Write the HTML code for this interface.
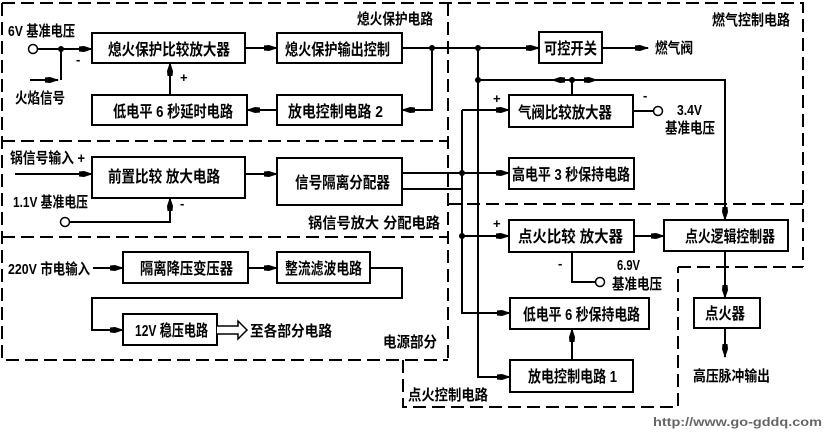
<!DOCTYPE html>
<html><head><meta charset="utf-8"><style>
html,body{margin:0;padding:0;background:#fff;}
svg{display:block;}
text{font-family:"Liberation Sans","Noto Sans CJK SC",sans-serif;font-weight:bold;fill:#000;}
</style></head><body>
<svg width="832" height="437" viewBox="0 0 832 437" xmlns="http://www.w3.org/2000/svg">
<defs>
<marker id="a" viewBox="0 0 14 8" refX="13" refY="4" markerWidth="14" markerHeight="8" markerUnits="userSpaceOnUse" orient="auto">
<path d="M0,1.5 L5,1 L14,4 L5,7 L0,6.5 Z" fill="#000"/>
</marker>
</defs>
<!-- dashed boundaries -->
<g stroke="#000" stroke-width="2" fill="none" stroke-dasharray="13,6">
<path d="M2,3 H803 V267"/>
<path d="M2,3 V360 H448"/>
<path d="M2,141 H448"/>
<path d="M2,237 H448"/>
<path d="M448,3 V360"/>
<path d="M448,204 H803"/>
<path d="M678,267 H803"/>
<path d="M403,360 V407 H678 V267"/>
</g>
<!-- boxes -->
<g stroke="#000" stroke-width="2" fill="#fff">
<rect x="92" y="33" width="153" height="30"/>
<rect x="277" y="33" width="125" height="30"/>
<rect x="92" y="95" width="155" height="30"/>
<rect x="277" y="95" width="125" height="30"/>
<rect x="539" y="32" width="63" height="31"/>
<rect x="509" y="95" width="124" height="32"/>
<rect x="92" y="157" width="153" height="41"/>
<rect x="277" y="158" width="125" height="47"/>
<rect x="509" y="158" width="125" height="31"/>
<rect x="509" y="220" width="125" height="32"/>
<rect x="664" y="220" width="124" height="31"/>
<rect x="123" y="252" width="125" height="31"/>
<rect x="277" y="252" width="93" height="31"/>
<rect x="123" y="314" width="94" height="31"/>
<rect x="510" y="298" width="139" height="31"/>
<rect x="510" y="360" width="123" height="32"/>
<rect x="694" y="298" width="66" height="30"/>
</g>
<!-- connectors -->
<g stroke="#000" stroke-width="2" fill="none">
<path d="M38,49 H92" marker-end="url(#a)"/>
<path d="M30,80 H58" marker-end="url(#a)"/>
<path d="M61,80 V49"/>
<path d="M245,48 H277" marker-end="url(#a)"/>
<path d="M402,48 H539" marker-end="url(#a)"/>
<path d="M602,48 H648" marker-end="url(#a)"/>
<path d="M432,48 V110 H402" marker-end="url(#a)"/>
<path d="M277,110 H247" marker-end="url(#a)"/>
<path d="M170,95 V63" marker-end="url(#a)"/>
<path d="M478,48 V377 H510" marker-end="url(#a)"/>
<path d="M478,80 H725 V220" marker-end="url(#a)"/>
<path d="M572,80 H552" marker-end="url(#a)"/>
<path d="M572,80 H597" marker-end="url(#a)"/>
<path d="M572,80 V95"/>
<path d="M462,110 H509" marker-end="url(#a)"/>
<path d="M633,111 H653"/>
<path d="M402,173 H509" marker-end="url(#a)"/>
<path d="M402,189 H462"/>
<path d="M462,110 V313 H510" marker-end="url(#a)"/>
<path d="M462,236 H509" marker-end="url(#a)"/>
<path d="M15,174 H92" marker-end="url(#a)"/>
<path d="M245,174 H277" marker-end="url(#a)"/>
<path d="M70,222 H170 V198" marker-end="url(#a)"/>
<path d="M634,236 H664" marker-end="url(#a)"/>
<path d="M572,252 V282 H595"/>
<path d="M725,251 V298" marker-end="url(#a)"/>
<path d="M725,328 V357" marker-end="url(#a)"/>
<path d="M572,360 V329" marker-end="url(#a)"/>
<path d="M93,268 H123" marker-end="url(#a)"/>
<path d="M248,268 H277" marker-end="url(#a)"/>
<path d="M370,268 H402 V298 H92 V330 H123" marker-end="url(#a)"/>
</g>
<!-- hollow double arrow -->
<path d="M217,326 H238 V321 L247,330 L238,339 V334 H217" stroke="#000" stroke-width="1.5" fill="#fff"/>
<!-- circles -->
<g stroke="#000" stroke-width="1.5" fill="#fff">
<circle cx="33" cy="49" r="4.5"/>
<circle cx="658" cy="111" r="4.5"/>
<circle cx="65" cy="222" r="4.5"/>
<circle cx="600" cy="282" r="4.5"/>
</g>
<!-- dots -->
<g fill="#000">
<circle cx="61" cy="49" r="3"/>
<circle cx="432" cy="48" r="3"/>
<circle cx="478" cy="48" r="3"/>
<circle cx="478" cy="80" r="3"/>
<circle cx="572" cy="80" r="3"/>
<circle cx="462" cy="173" r="3"/>
<circle cx="462" cy="236" r="3"/>
</g>
<!-- box labels -->
<g font-size="16">
<text x="108" y="55" textLength="122" lengthAdjust="spacingAndGlyphs">熄火保护比较放大器</text>
<text x="285" y="55" textLength="105" lengthAdjust="spacingAndGlyphs">熄火保护输出控制</text>
<text x="113" y="117" textLength="120" lengthAdjust="spacingAndGlyphs">低电平 6 秒延时电路</text>
<text x="288" y="117" textLength="95" lengthAdjust="spacingAndGlyphs">放电控制电路 2</text>
<text x="544" y="54" textLength="53" lengthAdjust="spacingAndGlyphs">可控开关</text>
<text x="518" y="118" textLength="94" lengthAdjust="spacingAndGlyphs">气阀比较放大器</text>
<text x="108" y="182" textLength="112" lengthAdjust="spacingAndGlyphs">前置比较  放大电路</text>
<text x="295" y="188" textLength="95" lengthAdjust="spacingAndGlyphs">信号隔离分配器</text>
<text x="512" y="180" textLength="118" lengthAdjust="spacingAndGlyphs">高电平 3 秒保持电路</text>
<text x="518" y="242" textLength="105" lengthAdjust="spacingAndGlyphs">点火比较  放大器</text>
<text x="685" y="242" textLength="90" lengthAdjust="spacingAndGlyphs">点火逻辑控制器</text>
<text x="140" y="274" textLength="93" lengthAdjust="spacingAndGlyphs">隔离降压变压器</text>
<text x="285" y="274" textLength="77" lengthAdjust="spacingAndGlyphs">整流滤波电路</text>
<text x="135" y="336" textLength="73" lengthAdjust="spacingAndGlyphs">12V 稳压电路</text>
<text x="523" y="320" textLength="117" lengthAdjust="spacingAndGlyphs">低电平 6 秒保持电路</text>
<text x="528" y="382" textLength="89" lengthAdjust="spacingAndGlyphs">放电控制电路 1</text>
<text x="705" y="319" textLength="40" lengthAdjust="spacingAndGlyphs">点火器</text>
</g>
<!-- other labels -->
<g font-size="15">
<text x="8" y="36" textLength="67" lengthAdjust="spacingAndGlyphs">6V 基准电压</text>
<text x="15" y="103" textLength="50" lengthAdjust="spacingAndGlyphs">火焰信号</text>
<text x="357" y="24" textLength="76" lengthAdjust="spacingAndGlyphs">熄火保护电路</text>
<text x="712" y="25" textLength="78" lengthAdjust="spacingAndGlyphs">燃气控制电路</text>
<text x="655" y="53" textLength="38" lengthAdjust="spacingAndGlyphs">燃气阀</text>
<text x="677" y="115" textLength="25" lengthAdjust="spacingAndGlyphs">3.4V</text>
<text x="665" y="133" textLength="50" lengthAdjust="spacingAndGlyphs">基准电压</text>
<text x="10" y="163" textLength="75" lengthAdjust="spacingAndGlyphs">锅信号输入 +</text>
<text x="13" y="207" textLength="75" lengthAdjust="spacingAndGlyphs">1.1V 基准电压</text>
<text x="308" y="228" textLength="132" lengthAdjust="spacingAndGlyphs">锅信号放大  分配电路</text>
<text x="8" y="274" textLength="82" lengthAdjust="spacingAndGlyphs">220V 市电输入</text>
<text x="250" y="336" textLength="82" lengthAdjust="spacingAndGlyphs">至各部分电路</text>
<text x="383" y="347" textLength="54" lengthAdjust="spacingAndGlyphs">电源部分</text>
<text x="617" y="270" textLength="23" lengthAdjust="spacingAndGlyphs">6.9V</text>
<text x="612" y="289" textLength="50" lengthAdjust="spacingAndGlyphs">基准电压</text>
<text x="408" y="400" textLength="80" lengthAdjust="spacingAndGlyphs">点火控制电路</text>
<text x="693" y="381" textLength="77" lengthAdjust="spacingAndGlyphs">高压脉冲输出</text>
</g>
<g font-size="13">
<text x="76" y="64">-</text>
<text x="180" y="82">+</text>
<text x="493" y="103">+</text>
<text x="643" y="100">-</text>
<text x="493" y="228">+</text>
<text x="180" y="208">-</text>
<text x="558" y="268">-</text>
</g>
<text x="653" y="426" font-size="12" textLength="169" lengthAdjust="spacingAndGlyphs" style="fill:#666">http://www.go-gddq.com</text>
</svg>
</body></html>
